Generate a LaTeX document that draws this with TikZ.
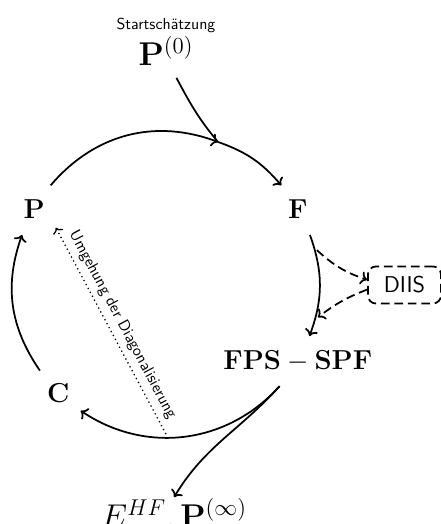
\documentclass[tikz,border=0pt]{standalone}
\usepackage{amsmath,amssymb}
\usetikzlibrary{arrows.meta,positioning,calc}
\begin{document}
\begin{tikzpicture}[line width=1.1pt,
    zustand/.style={circle,inner sep=0pt,minimum size=1.234cm,font=\LARGE},
    umweg/.style={dash pattern=on 5.5pt off 3pt}]
  \def\R{3.37}
  \useasboundingbox (-3.675,-5.292) rectangle (6.089,6.310);
  % Zustaende auf dem Kreis
  \foreach \name/\winkel/\sym in {P/150/P,F/30/F,C/-135/C}
    \node[zustand] (\name) at (\winkel:\R) {$\mathbf{\sym}$};
  \node[font=\LARGE,inner sep=0pt,minimum height=1.07cm] (FPS) at (-30:\R) {$\mathbf{FPS}-\mathbf{SPF}$};
  \node[font=\huge,inner sep=0pt,minimum height=1.17cm] (P0) at (0,5.19) {$\mathbf{P}^{(0)}$};
  \node[anchor=base,font=\sffamily] (start) at (0,5.66) {Startschätzung};
  \node[anchor=base,font=\huge,inner sep=0pt] (E) at (0.18,-5.36) {$E^{HF},\mathbf{P}^{(\infty)}$};
  \node[draw,umweg,rounded corners=5pt,font=\sffamily\Large,minimum width=46pt,minimum height=23.3pt] (DIIS) at (5.28,0) {DIIS};
  \coordinate (merge) at (70:\R);
  \coordinate (F-diis) at (13:3.43);
  \coordinate (diis-FPS) at (-12:3.44);
  \coordinate (bypass) at (-90:3.3);

  \draw[->] (P.55) to[bend left=35] (merge);
  \draw[->] (P0.-69) to[out=-62,in=130] (merge) to[bend left=15] (F.125);
  \draw[->] (F.-65) to[bend left=20] (FPS.65);
  \draw[->] (FPS.-126) to[bend left=41] (C.-39);
  \draw[->] (FPS.-126) to[out=-132,in=59] (E.north);
  \draw[->] (C.130) to[bend left=27] (P.-115);
  % gestrichelt: DIIS
  \draw[umweg,->] (F-diis) to[bend right=12] (DIIS.172);
  \draw[umweg,->] (DIIS.187) to[bend right=8] (diis-FPS);
  \draw[dotted,line width=0.8pt,->] (bypass) -- (P.-41) node[midway,sloped,above,font=\sffamily] {Umgehung der Diagonalisierung};
\end{tikzpicture}
\end{document}
